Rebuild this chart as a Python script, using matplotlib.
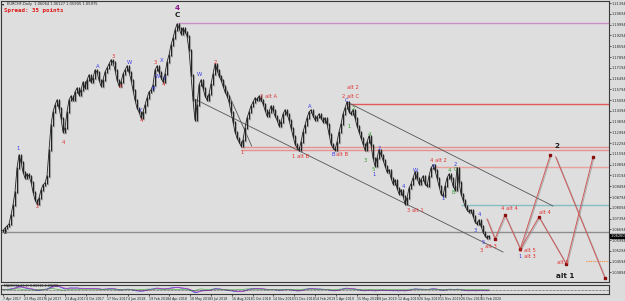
import numpy as np
import matplotlib
matplotlib.use('Agg')
import matplotlib.pyplot as plt
import matplotlib.patheffects as pe
import matplotlib.transforms as mtransforms

# daily closes, one sample every 3 bars
close = [
    1.0665, 1.0659, 1.0678, 1.0691, 1.0704, 1.0763, 1.0828, 1.0912, 1.1068, 1.1153,
    1.1107, 1.1042, 1.1003, 1.1029, 1.1016, 1.0977, 1.0912, 1.0860, 1.0834, 1.0873,
    1.0925, 1.0958, 1.0971, 1.1016, 1.1185, 1.1348, 1.1432, 1.1478, 1.1510, 1.1458,
    1.1393, 1.1302, 1.1328, 1.1432, 1.1510, 1.1536, 1.1510, 1.1562, 1.1588, 1.1543,
    1.1575, 1.1627, 1.1588, 1.1640, 1.1673, 1.1627, 1.1653, 1.1705, 1.1692, 1.1640,
    1.1601, 1.1640, 1.1692, 1.1718, 1.1744, 1.1770, 1.1757, 1.1705, 1.1640, 1.1601,
    1.1627, 1.1679, 1.1705, 1.1731, 1.1692, 1.1640, 1.1575, 1.1510, 1.1458, 1.1432,
    1.1393, 1.1432, 1.1478, 1.1523, 1.1562, 1.1575, 1.1608, 1.1705, 1.1731, 1.1692,
    1.1653, 1.1627, 1.1679, 1.1757, 1.1803, 1.1868, 1.1913, 1.1965, 1.2004, 1.1978,
    1.1939, 1.1978, 1.1952, 1.1926, 1.1835, 1.1673, 1.1510, 1.1380, 1.1478, 1.1608,
    1.1640, 1.1588, 1.1536, 1.1510, 1.1549, 1.1614, 1.1679, 1.1744, 1.1705, 1.1666,
    1.1640, 1.1601, 1.1562, 1.1536, 1.1497, 1.1432, 1.1367, 1.1302, 1.1263, 1.1237,
    1.1211, 1.1250, 1.1328, 1.1393, 1.1432, 1.1471, 1.1497, 1.1523, 1.1510, 1.1536,
    1.1510, 1.1484, 1.1445, 1.1406, 1.1432, 1.1471, 1.1445, 1.1406, 1.1380, 1.1341,
    1.1367, 1.1419, 1.1445, 1.1419, 1.1380, 1.1328, 1.1276, 1.1224, 1.1198, 1.1185,
    1.1237, 1.1302, 1.1348, 1.1393, 1.1432, 1.1445, 1.1406, 1.1380, 1.1400, 1.1419,
    1.1393, 1.1367, 1.1393, 1.1354, 1.1289, 1.1224, 1.1198, 1.1185, 1.1237, 1.1302,
    1.1354, 1.1419, 1.1458, 1.1497, 1.1432, 1.1419, 1.1445, 1.1393, 1.1341, 1.1302,
    1.1263, 1.1224, 1.1185, 1.1237, 1.1276, 1.1218, 1.1133, 1.1081, 1.1133, 1.1185,
    1.1153, 1.1120, 1.1081, 1.1042, 1.1055, 1.1003, 1.0964, 1.0990, 1.0938, 1.0899,
    1.0925, 1.0886, 1.0834, 1.0873, 1.0938, 1.0964, 1.1003, 1.1042, 1.1003, 1.0964,
    1.0990, 1.1016, 1.0964, 1.0951, 1.1016, 1.1068, 1.1088, 1.1055, 1.1003, 1.0951,
    1.0899, 1.0886, 1.0951, 1.1003, 1.1029, 1.1003, 1.0951, 1.0925, 1.1068, 1.0977,
    1.0899, 1.0860, 1.0821, 1.0795, 1.0782, 1.0795, 1.0756, 1.0717, 1.0704, 1.0730,
    1.0691, 1.0652, 1.0626, 1.0613, 1.0626,
]
bar_step = 3

date_labels = [
    '7 Apr 2017', '23 May 2017', '6 Jul 2017', '21 Aug 2017', '4 Oct 2017',
    '17 Nov 2017', '4 Jan 2018', '19 Feb 2018', '4 Apr 2018', '18 May 2018',
    '3 Jul 2018', '16 Aug 2018', '1 Oct 2018', '14 Nov 2018', '31 Dec 2018',
    '14 Feb 2019', '1 Apr 2019', '15 May 2019', '28 Jun 2019', '12 Aug 2019',
    '26 Sep 2019', '11 Nov 2019', '26 Dec 2019', '11 Feb 2020',
]

# trend lines (bar, price)
channel_upper = [(519, 1.1497), (828, 1.0821)]
channel_lower = [(290, 1.1517), (753, 1.0522)]
steep_line = [(322, 1.1738), (376, 1.1211)]

# horizontal levels: start bar, price, colour
levels = [
    (265, 1.2011, '#c890c8'),
    (519, 1.1484, '#e05a5a'),
    (360, 1.1206, '#e89090'),
    (360, 1.1187, '#e89090'),
    (648, 1.1075, '#eba0a0'),
    (690, 1.0828, '#86bcc2'),
    (0, 1.0652, '#8e8e8e'),
]
dotted_level = (877, 1.0464)

# projected wave paths
proj_a = [(729, 1.0737), (741, 1.0607), (756, 1.0763), (779, 1.0542), (824, 1.1153)]
proj_b = [(779, 1.0542), (807, 1.0750), (848, 1.0444), (888, 1.1140)]
proj_c = [(832, 1.1140), (906, 1.0353)]

RED, BLUE, GREEN, DARK, PURPLE = '#e03434', '#3a3ae0', '#2f9a2f', '#1a1a1a', '#8a1a8a'
wave_labels = [
    (54, 1.0815, '2', RED), (93, 1.1231, '4', RED), (168, 1.1796, '3', RED),
    (180, 1.1595, 'A', RED), (211, 1.1380, '4', RED), (232, 1.1757, '3', RED),
    (243, 1.1608, '4', RED), (322, 1.1757, '2', RED), (361, 1.1166, '1', RED),
    (402, 1.1530, '2 alt A', RED), (450, 1.1140, '1 alt B', RED),
    (511, 1.1159, 'alt B', RED), (524, 1.1536, '2 alt C', RED),
    (528, 1.1590, 'alt 2', RED), (621, 1.0789, '3 alt 1', RED),
    (656, 1.1114, '4 alt 2', RED), (721, 1.0529, '3', RED), (735, 1.0561, 'alt 3', RED),
    (762, 1.0802, '4 alt 4', RED), (790, 1.0535, '5 alt 5', RED),
    (794, 1.0496, 'alt 3', RED), (816, 1.0776, 'alt 4', RED), (843, 1.0457, 'alt 5', RED),
    (25, 1.1198, '1', BLUE), (145, 1.1731, 'A', BLUE), (192, 1.1757, 'W', BLUE),
    (210, 1.1445, 'Y', BLUE), (228, 1.1582, 'B', BLUE), (241, 1.1764, 'X', BLUE),
    (235, 1.1660, 'W', BLUE), (246, 1.1647, 'Y', BLUE), (298, 1.1679, 'W', BLUE),
    (463, 1.1465, 'A', BLUE), (499, 1.1153, 'B', BLUE), (519, 1.1510, 'C', BLUE),
    (567, 1.1198, '2', BLUE), (559, 1.1023, '1', BLUE), (604, 1.0951, '4', BLUE),
    (621, 1.1049, 'W', BLUE), (649, 1.1081, 'Y', BLUE), (663, 1.0873, '1', BLUE),
    (682, 1.1088, '2', BLUE), (711, 1.0665, '3', BLUE), (718, 1.0763, '4', BLUE),
    (723, 1.0587, '5', BLUE), (779, 1.0496, '1', BLUE),
    (522, 1.1341, '1', GREEN), (528, 1.1458, '2', GREEN), (553, 1.1289, '4', GREEN),
    (546, 1.1114, '3', GREEN), (559, 1.1060, '5', GREEN), (673, 1.1049, '4', GREEN),
    (679, 1.0912, 'B', GREEN), (682, 1.1058, 'C', GREEN),
    (7, 1.0652, '2', DARK),
]
big_labels = [
    (264, 1.2110, '4', PURPLE), (264, 1.2065, 'C', DARK),
    (834, 1.1213, '2', DARK), (847, 1.0366, 'alt 1', DARK),
]

W, H = 625, 301
fig = plt.figure(figsize=(W / 100, H / 100), dpi=100, facecolor='#dcdcdc')
ax = fig.add_axes([1 / W, 1 - 282 / H, 608 / W, 281 / H])
axi = fig.add_axes([1 / W, 1 - 294 / H, 608 / W, 9 / H])
x_max = 912
p_top, p_bot = 1.21535, 1.0327

for a in (ax, axi):
    a.set_facecolor('#dedede')
    for s in a.spines.values():
        s.set_color('#3a3a3a')
        s.set_linewidth(0.8)
    a.set_xlim(0, x_max)

c = np.array(close)
xs = np.arange(len(c)) * bar_step

# levels first so price draws over them
for start, price, col in levels:
    ax.hlines(price, start, x_max, color=col, lw=1.0, zorder=1)
ax.hlines(dotted_level[1], dotted_level[0], x_max, color='#f08a30', lw=0.8,
          linestyles=(0, (1, 1)), zorder=1)

shadow = [pe.SimpleLineShadow(offset=(0.7, -0.7), shadow_color='#8a8a8a', alpha=0.6), pe.Normal()]
lo = np.minimum(c[:-1], c[1:])
hi = np.maximum(c[:-1], c[1:])
ax.vlines(xs[1:], lo - 0.0005, hi + 0.0005, color='#222222', lw=0.8, zorder=3,
          path_effects=shadow)
ax.plot(xs, c, color='#222222', lw=0.6, zorder=3)

for line in (channel_upper, channel_lower, steep_line):
    (x0, y0), (x1, y1) = line
    ax.plot([x0, x1], [y0, y1], color='#555555', lw=0.6, zorder=2)

for path in (proj_a, proj_b, proj_c):
    px, py = zip(*path)
    ax.plot(px, py, color='#cc5a5a', lw=0.7, zorder=4, path_effects=shadow)
    ax.plot(px[1:], py[1:], 's', color='#8b0f0f', ms=2.0, zorder=5)

for bx, by, txt, col in wave_labels:
    ax.text(bx, by, txt, color=col, fontsize=3.8, ha='center', va='center', zorder=6)
for bx, by, txt, col in big_labels:
    ax.text(bx, by, txt, color=col, fontsize=5.2, fontweight='bold', ha='center',
            va='center', zorder=6)

ax.set_ylim(p_bot, p_top)
ax.yaxis.tick_right()
yt = 1.21394 - 0.007 * np.arange(26)
ax.set_yticks(yt)
ax.set_yticklabels(['%.5f' % v for v in yt])
ax.tick_params(axis='y', labelsize=2.5, length=1.5, pad=0.6, colors='#222222', width=0.5)
ax.set_xticks([])

# current price box
tr = mtransforms.blended_transform_factory(ax.transAxes, ax.transData)
ax.text(1.0025, c[-1], '%.5f' % c[-1], transform=tr, fontsize=2.5, color='white',
        va='center', ha='left', bbox=dict(boxstyle='square,pad=0.12', fc='black', ec='black'))

# oscillator panel from the closes
s = np.array(close)
def ema(v, n):
    out = np.empty_like(v)
    k = 2 / (n + 1)
    out[0] = v[0]
    for i in range(1, len(v)):
        out[i] = v[i] * k + out[i - 1] * (1 - k)
    return out
macd = ema(s, 4) - ema(s, 9)
signal = ema(macd, 3)
axi.plot(xs, macd, color='#3a50d8', lw=0.6)
axi.plot(xs, signal, color='#c040c0', lw=0.5)
axi.plot(xs, macd - signal, color='#30a030', lw=0.4)
axi.hlines(0, 0, x_max, color='#333333', lw=0.5, linestyles=(0, (1, 1)))
lim = np.abs(macd).max() * 1.3
axi.set_ylim(-lim, lim)
axi.set_yticks([])
axi.text(4, lim * 0.7, 'MACD(12,26,9) 0.00312 0.00298', fontsize=2.3, color='#222222',
         va='center')
tick_pos = 3 + 31.2 * np.arange(len(date_labels))
axi.set_xticks(tick_pos)
axi.set_xticklabels(date_labels, ha='left')
axi.tick_params(axis='x', labelsize=2.3, length=1.5, pad=0.6, colors='#222222', width=0.5)

fig.text(2 / W, 1 - 4 / H, '\u25be', fontsize=3.0, color='black', va='center')
fig.text(7 / W, 1 - 4 / H, 'EURCHF,Daily  1.06064 1.06127 1.05905 1.05975', fontsize=2.6,
         color='#222222', va='center')
fig.text(4 / W, 1 - 10.5 / H, 'Spread: 35 points', fontsize=4.2, color='#e01818',
         fontweight='bold', family='DejaVu Sans Mono', va='center')

fig.savefig('out.png', dpi=100, facecolor=fig.get_facecolor())
